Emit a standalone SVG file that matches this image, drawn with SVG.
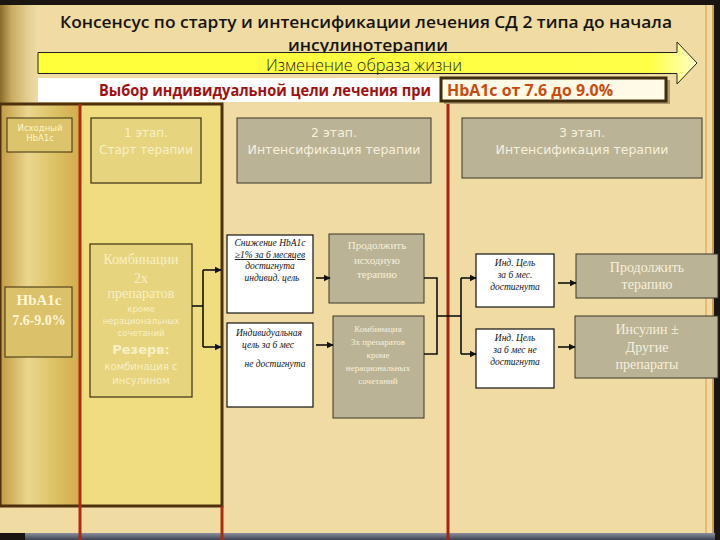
<svg xmlns="http://www.w3.org/2000/svg" width="720" height="540" viewBox="0 0 720 540">
<defs>
  <linearGradient id="goldCol" x1="0" y1="0" x2="1" y2="0">
    <stop offset="0" stop-color="#c09a44"/>
    <stop offset="0.35" stop-color="#ebd68e"/>
    <stop offset="0.7" stop-color="#dcc064"/>
    <stop offset="1" stop-color="#cfad4c"/>
  </linearGradient>
  <linearGradient id="scroll" x1="0" y1="0" x2="1" y2="0">
    <stop offset="0" stop-color="#8a6a2a"/>
    <stop offset="0.3" stop-color="#c9ab62"/>
    <stop offset="0.7" stop-color="#e2cd8e"/>
    <stop offset="1" stop-color="#ecdca6"/>
  </linearGradient>
  <linearGradient id="arrowFill" x1="0" y1="0" x2="1" y2="0">
    <stop offset="0" stop-color="#ffff3a"/>
    <stop offset="0.93" stop-color="#ffff48"/>
    <stop offset="1" stop-color="#ffffc8"/>
  </linearGradient>
  <linearGradient id="bottomBar" x1="0" y1="0" x2="0" y2="1">
    <stop offset="0" stop-color="#8a909a"/>
    <stop offset="1" stop-color="#3a4050"/>
  </linearGradient>
  <marker id="ah" viewBox="0 0 10 10" refX="9" refY="5" markerWidth="4.5" markerHeight="4.5" orient="auto" markerUnits="strokeWidth">
    <path d="M0,0 L10,5 L0,10 Z" fill="#111"/>
  </marker>
  <style>
    .gray { fill:#bab396; stroke:#3a3628; stroke-width:1; }
    .white { fill:#ffffff; stroke:#111; stroke-width:1.2; }
    .st1 { fill:#e6d47e; stroke:#3a3010; stroke-width:1.2; }
    .conn { stroke:#111; stroke-width:1.6; fill:none; }
    .arr { stroke:#111; stroke-width:1.6; fill:none; marker-end:url(#ah); }
    .sans { font-family:"DejaVu Sans","Liberation Sans",sans-serif; }
    .serif { font-family:"Liberation Serif","DejaVu Serif",serif; }
    .it { font-family:"Liberation Serif","DejaVu Serif",serif; font-style:italic; fill:#111; font-size:9.5px; }
    .lt { fill:#f6f0dc; }
    .pale { fill:#f8f0c6; }
    .mid { text-anchor:middle; }
  </style>
</defs>

<!-- background -->
<rect x="0" y="0" width="720" height="540" fill="#1a1510"/>
<rect x="0" y="5" width="714" height="528" fill="#f0dba2"/>
<rect x="0" y="5" width="38" height="98" fill="url(#scroll)"/>
<rect x="25" y="533" width="690" height="7" fill="url(#bottomBar)"/>
<line x1="706" y1="5" x2="706" y2="533" stroke="#d89a48" stroke-width="1"/>
<line x1="713" y1="5" x2="713" y2="533" stroke="#c08a40" stroke-width="1.5"/>

<!-- left yellow panel -->
<g id="panel">
  <rect x="0" y="104" width="222" height="402" fill="#efdd80"/>
  <rect x="0" y="104" width="80" height="402" fill="url(#goldCol)"/>
  <rect x="0" y="104" width="222" height="402" fill="none" stroke="#4e300c" stroke-width="3"/>
  <line x1="80" y1="104" x2="80" y2="540" stroke="#b02a12" stroke-width="3"/>
  <line x1="222" y1="506" x2="222" y2="540" stroke="#b02a12" stroke-width="3"/>
  <line x1="448" y1="104" x2="448" y2="540" stroke="#a82412" stroke-width="3"/>
</g>

<!-- title -->
<g id="title" font-family="'Open Sans','Liberation Sans',sans-serif" font-weight="600" fill="#161410">
  <text x="366" y="28" font-size="17" text-anchor="middle" textLength="612" lengthAdjust="spacingAndGlyphs">Консенсус по старту и интенсификации  лечения СД 2 типа до начала</text>
  <text x="368" y="51" font-size="17" text-anchor="middle" textLength="160" lengthAdjust="spacingAndGlyphs">инсулинотерапии</text>
</g>

<!-- lifestyle arrow -->
<g id="lifestyle">
  <path d="M38,52.5 L677,52.5 L677,42 L697,63 L677,84 L677,73.5 L38,73.5 Z" fill="url(#arrowFill)" stroke="#222" stroke-width="1"/>
  <text x="364" y="71" font-size="16" text-anchor="middle" fill="#1c1c1c" font-family="'Open Sans','Liberation Sans',sans-serif" font-weight="300" textLength="196" lengthAdjust="spacingAndGlyphs">Изменение образа жизни</text>
</g>

<!-- choice bar -->
<g id="choice">
  <rect x="38" y="78" width="404" height="24" fill="#ffffff"/>
  <rect x="444" y="80" width="226" height="24" fill="#6b5a3a" opacity="0.5"/>
  <rect x="441" y="78" width="225" height="23" fill="#fffbe6" stroke="#3e2c0c" stroke-width="3"/>
  <text x="99" y="96" font-size="16" font-weight="bold" fill="#a01010" font-family="'Open Sans','Liberation Sans',sans-serif" textLength="332" lengthAdjust="spacingAndGlyphs">Выбор индивидуальной цели лечения при</text>
  <text x="447" y="96" font-size="16" font-weight="bold" fill="#c84a10" font-family="'Open Sans','Liberation Sans',sans-serif" textLength="166" lengthAdjust="spacingAndGlyphs">HbA1c от 7.6 до 9.0%</text>
</g>

<!-- left column -->
<g id="baseline-hba1c">
  <rect x="7" y="118" width="65" height="34" fill="#dcc46c" stroke="#3a2c0c" stroke-width="1"/>
  <text x="40" y="131" font-size="8.5" class="sans mid" fill="#fff4c8">Исходный</text>
  <text x="40" y="141" font-size="8.5" class="sans mid" fill="#fff4c8">HbA1c</text>
</g>
<g id="hba1c-range">
  <rect x="5" y="287" width="67" height="70" fill="#dac16a" stroke="#3a2c0c" stroke-width="1"/>
  <text x="39" y="305" font-size="15" font-weight="bold" class="serif mid" fill="#fff6d4">HbA1c</text>
  <text x="39" y="325" font-size="14" font-weight="bold" class="serif mid" fill="#fff6d4">7.6-9.0%</text>
</g>

<!-- stage 1 -->
<g id="stage1">
  <rect class="st1" x="91" y="118" width="110" height="65"/>
  <text x="146" y="137" font-size="12" class="sans mid pale">1 этап.</text>
  <text x="146" y="154" font-size="12" class="sans mid pale">Старт терапии</text>
</g>
<g id="stage1-combo">
  <rect class="st1" x="90" y="244" width="102" height="153"/>
  <text x="141" y="264" font-size="14" class="serif mid pale">Комбинации</text>
  <text x="141" y="283" font-size="14" class="serif mid pale">2х</text>
  <text x="141" y="298" font-size="14" class="serif mid pale">препаратов</text>
  <text x="141" y="312" font-size="8.5" class="sans mid pale">кроме</text>
  <text x="141" y="324" font-size="8.5" class="sans mid pale">нерациональных</text>
  <text x="141" y="336" font-size="8.5" class="sans mid pale">сочетаний</text>
  <text x="141" y="354" font-size="13" font-weight="bold" class="sans mid pale">Резерв:</text>
  <text x="141" y="370" font-size="10" class="sans mid pale">комбинация с</text>
  <text x="141" y="384" font-size="10" class="sans mid pale">инсулином</text>
</g>

<!-- stage 2 -->
<g id="stage2">
  <rect class="gray" x="237" y="118" width="194" height="65"/>
  <text x="334" y="137" font-size="12.5" class="sans mid lt">2 этап.</text>
  <text x="334" y="154" font-size="12.5" class="sans mid lt">Интенсификация терапии</text>
</g>
<g id="s2-achieved">
  <rect class="white" x="227" y="235" width="86" height="78"/>
  <text x="270" y="246" class="it mid">Снижение HbA1c</text>
  <text x="270" y="258" class="it mid" text-decoration="underline">≥1% за 6 месяцев</text>
  <text x="270" y="269" class="it mid">достигнута</text>
  <text x="272" y="281" class="it mid">индивид. цель</text>
</g>
<g id="s2-not-achieved">
  <rect class="white" x="227" y="323" width="86" height="84"/>
  <text x="269" y="336" class="it mid">Индивидуальная</text>
  <text x="268" y="348" class="it mid">цель за 6 мес</text>
  <text x="275" y="367" class="it mid">не достигнута</text>
</g>
<g id="s2-continue">
  <rect class="gray" x="329" y="234" width="95" height="69"/>
  <text x="377" y="249" font-size="11" class="serif mid lt">Продолжить</text>
  <text x="377" y="264" font-size="11" class="serif mid lt">исходную</text>
  <text x="377" y="278" font-size="11" class="serif mid lt">терапию</text>
</g>
<g id="s2-combo3">
  <rect class="gray" x="333" y="316" width="91" height="102"/>
  <text x="378" y="332" font-size="9" class="serif mid lt">Комбинация</text>
  <text x="378" y="345" font-size="9" class="serif mid lt">3х препаратов</text>
  <text x="378" y="358" font-size="9" class="serif mid lt">кроме</text>
  <text x="378" y="371" font-size="9" class="serif mid lt">нерациональных</text>
  <text x="378" y="384" font-size="9" class="serif mid lt">сочетаний</text>
</g>

<!-- stage 3 -->
<g id="stage3">
  <rect class="gray" x="462" y="118" width="240" height="60"/>
  <text x="582" y="137" font-size="12.5" class="sans mid lt">3 этап.</text>
  <text x="582" y="154" font-size="12.5" class="sans mid lt">Интенсификация терапии</text>
</g>
<g id="s3-achieved">
  <rect class="white" x="476" y="254" width="78" height="53"/>
  <text x="515" y="266" class="it mid" font-size="9">Инд. Цель</text>
  <text x="515" y="278" class="it mid" font-size="9">за 6 мес.</text>
  <text x="515" y="290" class="it mid" font-size="9">достигнута</text>
</g>
<g id="s3-not-achieved">
  <rect class="white" x="476" y="329" width="78" height="59"/>
  <text x="515" y="341" class="it mid" font-size="9">Инд. Цель</text>
  <text x="515" y="353" class="it mid" font-size="9">за 6 мес не</text>
  <text x="515" y="365" class="it mid" font-size="9">достигнута</text>
</g>
<g id="s3-continue">
  <rect class="gray" x="576" y="254" width="142" height="44"/>
  <text x="647" y="272" font-size="14" class="serif mid lt">Продолжить</text>
  <text x="647" y="289" font-size="14" class="serif mid lt">терапию</text>
</g>
<g id="s3-insulin">
  <rect class="gray" x="575" y="316" width="143" height="62"/>
  <text x="647" y="334" font-size="14" class="serif mid lt">Инсулин ±</text>
  <text x="647" y="352" font-size="14" class="serif mid lt">Другие</text>
  <text x="647" y="369" font-size="14" class="serif mid lt">препараты</text>
</g>

<!-- connectors -->
<g id="connectors">
  <polyline class="conn" points="192,306 203,306"/>
  <polyline class="conn" points="203,270 203,347"/>
  <line class="arr" x1="203" y1="270" x2="221" y2="270"/>
  <line class="arr" x1="203" y1="347" x2="221" y2="347"/>
  <line class="arr" x1="316" y1="278" x2="330" y2="278"/>
  <line class="arr" x1="316" y1="345" x2="333" y2="345"/>
  <polyline class="conn" points="424,278 437,278 437,354 424,354"/>
  <polyline class="conn" points="437,316 461,316"/>
  <polyline class="conn" points="461,278 461,354"/>
  <line class="arr" x1="461" y1="278" x2="476" y2="278"/>
  <line class="arr" x1="461" y1="354" x2="476" y2="354"/>
  <line class="arr" x1="558" y1="283" x2="576" y2="283"/>
  <line class="arr" x1="558" y1="347" x2="575" y2="347"/>
</g>
</svg>
